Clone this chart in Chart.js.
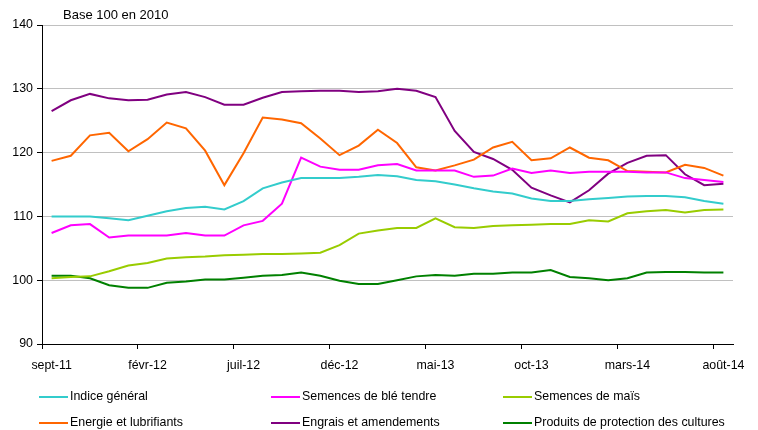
<!DOCTYPE html>
<html>
<head>
<meta charset="utf-8">
<script src="https://cdn.jsdelivr.net/npm/chart.js@4"></script>
<style>
  html, body { margin: 0; padding: 0; background: #fff; }
  #wrap { width: 758px; height: 430px; position: relative; }
</style>
</head>
<body>
<div id="wrap"><canvas id="indices"></canvas></div>
<script>
const months = [
  'sept-11', 'oct-11', 'nov-11', 'déc-11', 'janv-12', 'févr-12', 'mars-12', 'avr-12', 'mai-12',
  'juin-12', 'juil-12', 'août-12', 'sept-12', 'oct-12', 'nov-12', 'déc-12', 'janv-13', 'févr-13',
  'mars-13', 'avr-13', 'mai-13', 'juin-13', 'juil-13', 'août-13', 'sept-13', 'oct-13', 'nov-13',
  'déc-13', 'janv-14', 'févr-14', 'mars-14', 'avr-14', 'mai-14', 'juin-14', 'juil-14', 'août-14'
];

const indiceGeneral = [
  110.0, 110.0, 110.0, 109.7, 109.4, 110.1, 110.8, 111.3, 111.5, 111.1, 112.4, 114.4,
  115.3, 116.0, 116.0, 116.0, 116.2, 116.5, 116.3, 115.7, 115.5, 115.0, 114.4, 113.9,
  113.6, 112.8, 112.4, 112.4, 112.7, 112.9, 113.1, 113.2, 113.2, 113.0, 112.4, 112.0
];
const bleTendre = [
  107.4, 108.6, 108.8, 106.7, 107.0, 107.0, 107.0, 107.4, 107.0, 107.0, 108.6, 109.3,
  112.0, 119.2, 117.8, 117.3, 117.3, 118.0, 118.2, 117.2, 117.2, 117.2, 116.2, 116.4,
  117.5, 116.8, 117.2, 116.8, 117.0, 117.0, 117.0, 116.9, 116.9, 116.0, 115.7, 115.4
];
const mais = [
  100.3, 100.5, 100.6, 101.4, 102.3, 102.7, 103.4, 103.6, 103.7, 103.9, 104.0, 104.1,
  104.1, 104.2, 104.3, 105.5, 107.3, 107.8, 108.2, 108.2, 109.7, 108.3, 108.2, 108.5,
  108.6, 108.7, 108.8, 108.8, 109.4, 109.2, 110.5, 110.8, 111.0, 110.6, 111.0, 111.1
];
const energie = [
  118.7, 119.5, 122.7, 123.1, 120.2, 122.1, 124.7, 123.8, 120.3, 114.9, 119.9, 125.5,
  125.2, 124.6, 122.2, 119.6, 121.1, 123.6, 121.5, 117.7, 117.2, 118.0, 118.9, 120.8,
  121.7, 118.8, 119.1, 120.8, 119.2, 118.8, 117.1, 117.0, 116.9, 118.1, 117.6, 116.4
];
const engrais = [
  126.5, 128.2, 129.2, 128.5, 128.2, 128.3, 129.1, 129.5, 128.7, 127.5, 127.5, 128.6,
  129.5, 129.6, 129.7, 129.7, 129.5, 129.6, 130.0, 129.7, 128.7, 123.4, 120.1, 119.0,
  117.3, 114.5, 113.3, 112.2, 114.1, 116.7, 118.4, 119.5, 119.6, 116.6, 114.9, 115.1
];
const protection = [
  100.7, 100.7, 100.3, 99.2, 98.8, 98.8, 99.6, 99.8, 100.1, 100.1, 100.4, 100.7,
  100.8, 101.2, 100.7, 99.9, 99.4, 99.4, 100.0, 100.6, 100.8, 100.7, 101.0, 101.0,
  101.2, 101.2, 101.6, 100.5, 100.3, 100.0, 100.3, 101.2, 101.3, 101.3, 101.2, 101.2
];

const yTicks = [90, 100, 110, 120, 130, 140];

const FONT = 'Liberation Sans, Arial, sans-serif';

function serie(label, data, color) {
  return {
    label, data,
    borderColor: color,
    backgroundColor: color,
    borderWidth: 2,
    pointRadius: 0,
    tension: 0,
    fill: false
  };
}

// legend laid out in three fixed columns under the axis
const gridLegend = {
  id: 'gridLegend',
  afterDraw(chart) {
    const ctx = chart.ctx;
    const cols = [39, 271, 503];
    const rows = [397, 423];
    ctx.save();
    ctx.font = '12.4px ' + FONT;
    ctx.textBaseline = 'middle';
    ctx.fillStyle = '#000';
    chart.data.datasets.forEach((ds, i) => {
      const x = cols[i % 3];
      const y = rows[Math.floor(i / 3)];
      ctx.strokeStyle = ds.borderColor;
      ctx.lineWidth = 2;
      ctx.beginPath();
      ctx.moveTo(x, y);
      ctx.lineTo(x + 29, y);
      ctx.stroke();
      ctx.fillText(ds.label, x + 31, y);
    });
    ctx.restore();
  }
};

const baseNote = {
  id: 'baseNote',
  afterDraw(chart) {
    const ctx = chart.ctx;
    ctx.save();
    ctx.font = '13px ' + FONT;
    ctx.fillStyle = '#000';
    ctx.textBaseline = 'middle';
    ctx.fillText('Base 100 en 2010', 63, 15);
    ctx.restore();
  }
};

new Chart(document.getElementById('indices'), {
  type: 'line',
  data: {
    labels: months,
    datasets: [
      serie('Indice général', indiceGeneral, '#33CCCC'),
      serie('Semences de blé tendre', bleTendre, '#FF00FF'),
      serie('Semences de maïs', mais, '#99CC00'),
      serie('Energie et lubrifiants', energie, '#FF6600'),
      serie('Engrais et amendements', engrais, '#800080'),
      serie('Produits de protection des cultures', protection, '#008000')
    ]
  },
  options: {
    responsive: true,
    maintainAspectRatio: false,
    animation: false,
    devicePixelRatio: 1,
    layout: { padding: { top: 25, right: 25, bottom: 56, left: 0 } },
    plugins: {
      legend: { display: false },
      tooltip: { enabled: false }
    },
    scales: {
      x: {
        type: 'category',
        offset: true,
        afterFit: scale => { scale.height = 30; },
        grid: {
          offset: true,
          drawOnChartArea: false,
          drawTicks: true,
          tickLength: 5,
          tickColor: ctx => (ctx.index % 5 === 0 ? '#000' : 'rgba(0,0,0,0)')
        },
        border: { display: true, color: '#000', width: 1 },
        ticks: {
          autoSkip: false,
          maxRotation: 0,
          padding: 9,
          color: '#000',
          font: { family: FONT, size: 12.4 },
          callback: (val, i) => (i % 5 === 0 ? months[i] : '')
        }
      },
      y: {
        min: yTicks[0],
        max: yTicks[yTicks.length - 1],
        afterFit: scale => { scale.width = 42; },
        afterBuildTicks: scale => { scale.ticks = yTicks.map(v => ({ value: v })); },
        grid: {
          color: '#c0c0c0',
          lineWidth: 1,
          tickColor: '#000',
          tickLength: 5
        },
        border: { display: true, color: '#000', width: 1 },
        ticks: {
          padding: 4,
          color: '#000',
          font: { family: FONT, size: 12.4 }
        }
      }
    }
  },
  plugins: [gridLegend, baseNote]
});
</script>
</body>
</html>
